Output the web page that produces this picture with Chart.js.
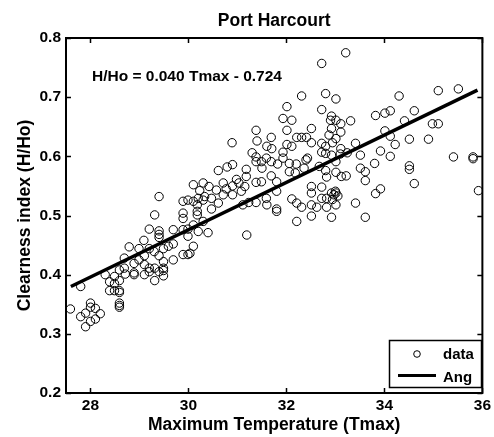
<!DOCTYPE html>
<html>
<head>
<meta charset="utf-8">
<script src="https://cdn.jsdelivr.net/npm/chart.js@4"></script>
<style>
  body { margin: 0; background: #fff; }
  #wrap { width: 494px; height: 437px; }
</style>
</head>
<body>
<div id="wrap"><canvas id="chart" width="494" height="437"></canvas></div>
<script>
const chartTitle = "Port Harcourt";
const xTitle = "Maximum Temperature (Tmax)";
const yTitle = "Clearness index (H/Ho)";
const fitLabel = "H/Ho = 0.040 Tmax - 0.724";

const xTickValues = [28, 30, 32, 34, 36];
const yTickValues = [0.2, 0.3, 0.4, 0.5, 0.6, 0.7, 0.8];

// measured points: Tmax and H/Ho
const tmax = [
  27.80, 27.59, 27.80, 27.90, 28.00, 28.00, 28.10, 28.20, 28.10, 28.00, 27.90,
  28.30, 28.49, 28.39, 28.49, 28.59, 28.39, 28.49, 28.59, 28.59, 28.59, 28.59, 28.59,
  28.71, 28.89, 28.89, 29.10, 29.31, 29.20, 29.40, 29.49,
  29.40, 29.31, 29.20, 29.40, 29.40, 29.40, 29.09, 28.79, 28.99, 29.20, 29.30, 29.49,
  29.59, 29.69, 29.69, 29.89, 29.99, 29.89, 29.89, 29.89, 29.99, 30.18, 30.10, 29.99,
  29.99, 29.89, 29.69, 29.49, 29.40, 29.49, 29.31, 29.20, 29.10, 29.10, 28.99, 28.89,
  28.69, 28.69, 28.59, 29.49,
  32.72, 32.80, 33.01, 32.31, 32.01, 32.72, 32.92, 31.93, 32.11, 33.01, 32.01, 32.51,
  32.92, 31.38, 31.40, 31.69, 32.21, 32.31, 32.41, 30.89, 31.60, 31.70, 32.01, 32.11,
  32.51, 32.72, 32.80, 33.01, 31.38, 31.93, 32.72, 32.92,
  31.30, 31.59, 31.49, 31.38, 31.69, 31.82, 31.93, 32.06, 32.20, 32.40, 32.43, 32.80,
  33.01, 30.90, 30.79, 30.61, 31.18, 31.50, 31.18, 30.98, 31.03, 31.69, 32.06, 32.18,
  32.36, 32.67, 32.80, 32.82, 33.01, 30.10, 30.30, 30.42, 30.57, 30.71, 30.77, 30.90,
  31.15, 31.38, 31.49, 31.80, 31.80, 30.23, 30.20, 30.10, 30.33, 30.30, 30.47, 30.61,
  30.71, 30.90, 31.08, 31.11, 31.23, 31.38, 31.59, 31.60, 31.80, 31.80, 30.47, 30.18,
  30.18, 30.30, 30.20, 30.40, 30.10, 30.03, 31.19, 32.11, 32.21, 32.31, 32.21, 32.51,
  32.51, 32.51, 32.51, 32.72, 32.62, 32.72, 32.82, 32.92, 33.01, 32.82, 32.92, 33.01,
  32.94,
  33.21, 35.10, 35.51, 34.30, 33.82, 34.01, 34.12, 34.61, 32.90, 33.11, 33.31, 34.41,
  34.98, 35.10, 32.87, 32.94, 33.11, 34.01, 34.12, 34.51, 34.90, 34.22, 33.41, 33.11,
  33.92, 33.51, 34.12, 35.41, 35.81, 35.81,
  33.80, 33.51, 33.61, 33.61, 34.51, 34.51, 34.61, 35.92, 33.82, 33.92, 33.41, 33.61,
  33.12, 33.22, 33.00, 32.97, 33.05, 33.10, 33.24
];
const hho = [
  0.380, 0.342, 0.329, 0.335, 0.352, 0.345, 0.343, 0.334, 0.325, 0.321, 0.312,
  0.400, 0.397, 0.388, 0.385, 0.390, 0.373, 0.373, 0.373, 0.370, 0.352, 0.348, 0.345,
  0.401, 0.403, 0.400, 0.400, 0.390, 0.405, 0.405, 0.407,
  0.532, 0.501, 0.477, 0.474, 0.468, 0.463, 0.458, 0.447, 0.444, 0.444, 0.439, 0.444,
  0.448, 0.452, 0.476, 0.476, 0.477, 0.495, 0.504, 0.524, 0.526, 0.518, 0.484, 0.465,
  0.434, 0.434, 0.425, 0.422, 0.432, 0.411, 0.411, 0.411, 0.417, 0.432, 0.425, 0.419,
  0.428, 0.411, 0.408, 0.398,
  0.757, 0.706, 0.697, 0.702, 0.684, 0.679, 0.668, 0.664, 0.661, 0.661, 0.644, 0.647,
  0.647, 0.644, 0.626, 0.632, 0.632, 0.632, 0.632, 0.623, 0.617, 0.613, 0.620, 0.617,
  0.623, 0.622, 0.617, 0.630, 0.599, 0.607, 0.607, 0.602,
  0.606, 0.597, 0.591, 0.591, 0.591, 0.587, 0.597, 0.588, 0.587, 0.594, 0.597, 0.605,
  0.591, 0.586, 0.582, 0.576, 0.578, 0.580, 0.566, 0.561, 0.555, 0.567, 0.574, 0.572,
  0.580, 0.583, 0.576, 0.565, 0.573, 0.552, 0.555, 0.549, 0.543, 0.555, 0.545, 0.550,
  0.549, 0.556, 0.557, 0.557, 0.541, 0.542, 0.529, 0.524, 0.532, 0.526, 0.529, 0.521,
  0.535, 0.535, 0.541, 0.518, 0.522, 0.522, 0.529, 0.518, 0.511, 0.507, 0.511, 0.507,
  0.501, 0.490, 0.473, 0.471, 0.448, 0.436, 0.467, 0.528, 0.521, 0.514, 0.490, 0.549,
  0.538, 0.518, 0.499, 0.548, 0.514, 0.529, 0.529, 0.538, 0.538, 0.514, 0.497, 0.518,
  0.527,
  0.775, 0.711, 0.714, 0.702, 0.669, 0.673, 0.677, 0.677, 0.661, 0.655, 0.660, 0.660,
  0.655, 0.655, 0.636, 0.623, 0.641, 0.643, 0.634, 0.629, 0.629, 0.620, 0.622, 0.613,
  0.609, 0.602, 0.600, 0.599, 0.599, 0.596,
  0.588, 0.580, 0.574, 0.559, 0.584, 0.578, 0.554, 0.542, 0.537, 0.545, 0.521, 0.497,
  0.566, 0.567, 0.541, 0.535, 0.533, 0.604, 0.606
];

// Angstrom-type fit line end points
const fitX = [27.6, 35.9];
const fitY = [0.380, 0.712];

const font = '"Liberation Sans", Arial, sans-serif';

const scatterData = tmax.map((t, i) => ({ x: t, y: hho[i] }));
const fitData = fitX.map((t, i) => ({ x: t, y: fitY[i] }));

const framePlugin = {
  id: "frame",
  afterDatasetsDraw(chart) {
    const { ctx, chartArea: a, scales } = chart;
    const x = scales.x, y = scales.y;
    ctx.save();
    ctx.strokeStyle = "#000";
    ctx.fillStyle = "#000";

    // ticks, pointing inward on all four sides
    ctx.lineWidth = 1.5;
    ctx.beginPath();
    xTickValues.forEach(v => {
      const px = Math.round(x.getPixelForValue(v)) + 0.5;
      ctx.moveTo(px, a.bottom); ctx.lineTo(px, a.bottom - 5);
      ctx.moveTo(px, a.top); ctx.lineTo(px, a.top + 5);
    });
    yTickValues.forEach(v => {
      const py = Math.round(y.getPixelForValue(v)) + 0.5;
      ctx.moveTo(a.left, py); ctx.lineTo(a.left + 5, py);
      ctx.moveTo(a.right, py); ctx.lineTo(a.right - 5, py);
    });
    ctx.stroke();

    ctx.lineWidth = 2;
    ctx.strokeRect(a.left, a.top, a.right - a.left, a.bottom - a.top);

    // title
    ctx.font = "bold 17.5px " + font;
    ctx.textAlign = "center";
    ctx.textBaseline = "alphabetic";
    ctx.fillText(chartTitle, (a.left + a.right) / 2, 26);

    // fit equation
    ctx.font = "bold 15.5px " + font;
    ctx.textAlign = "left";
    ctx.fillText(fitLabel, 92, 81);

    // legend
    ctx.fillStyle = "#fff";
    ctx.fillRect(389, 340, 92, 47);
    ctx.lineWidth = 1.5;
    ctx.strokeRect(389.5, 340.5, 92, 47);
    ctx.fillStyle = "#000";
    ctx.font = "bold 15px " + font;
    ctx.fillText("data", 443, 359);
    ctx.fillText("Ang", 443, 382);
    ctx.lineWidth = 1;
    ctx.beginPath();
    ctx.arc(417, 354, 3.3, 0, Math.PI * 2);
    ctx.stroke();
    ctx.lineWidth = 3;
    ctx.beginPath();
    ctx.moveTo(398, 375.5); ctx.lineTo(436, 375.5);
    ctx.stroke();
    ctx.restore();
  }
};

new Chart(document.getElementById("chart"), {
  type: "scatter",
  data: {
    datasets: [
      {
        label: "Ang",
        type: "line",
        data: fitData,
        borderColor: "#000",
        borderWidth: 3.5,
        pointRadius: 0,
        fill: false,
        order: 0,
      },
      {
        label: "data",
        data: scatterData,
        pointStyle: "circle",
        pointRadius: 4.2,
        borderWidth: 1,
        borderColor: "#000",
        backgroundColor: "rgba(0,0,0,0)",
        order: 1,
      },
    ],
  },
  options: {
    responsive: false,
    animation: false,
    layout: { padding: { top: 38, right: 10, left: 0, bottom: 0 } },
    plugins: {
      legend: { display: false },
      tooltip: { enabled: false },
      title: { display: false },
    },
    scales: {
      x: {
        type: "linear",
        min: 27.5,
        max: 36,
        afterBuildTicks: s => { s.ticks = xTickValues.map(v => ({ value: v })); },
        afterFit: s => { s.height = 44; },
        grid: { display: false, drawTicks: false },
        border: { display: false },
        ticks: {
          color: "#000",
          padding: 3,
          maxRotation: 0,
          font: { family: font, size: 15.5, weight: "bold" },
          callback: v => String(v),
        },
        title: {
          display: true,
          text: xTitle,
          color: "#000",
          padding: { top: 0, bottom: 1 },
          font: { family: font, size: 17.5, weight: "bold" },
        },
      },
      y: {
        type: "linear",
        min: 0.2,
        max: 0.8,
        afterBuildTicks: s => { s.ticks = yTickValues.map(v => ({ value: v })); },
        afterFit: s => { s.width = 66; },
        grid: { display: false, drawTicks: false },
        border: { display: false },
        ticks: {
          color: "#000",
          padding: 5,
          font: { family: font, size: 15.5, weight: "bold" },
          callback: v => v.toFixed(1),
        },
        title: {
          display: true,
          text: yTitle,
          color: "#000",
          padding: { top: 15, bottom: 0 },
          font: { family: font, size: 17.5, weight: "bold" },
        },
      },
    },
  },
  plugins: [framePlugin],
});
</script>
</body>
</html>
